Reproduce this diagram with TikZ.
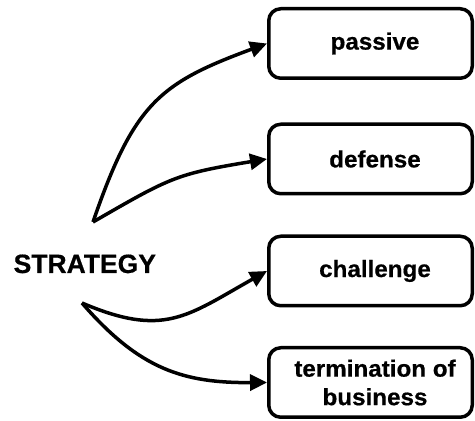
\documentclass[tikz,border=0pt]{standalone}
\usepackage{fontspec}
\setmainfont{Liberation Sans}
\newfontfamily\boxfont{Liberation Sans Bold}[FakeStretch=1.03, FakeBold=0.6]
\newfontfamily\stratfont{Liberation Sans Bold}[FakeBold=0.6]
\usetikzlibrary{arrows.meta}
\begin{document}
\begin{tikzpicture}[x=1pt,y=1pt,
  optbox/.style={draw=black, line width=3.5pt, rounded corners=12pt, minimum width=203.5pt, minimum height=69.5pt, inner sep=0pt, align=center, font=\boxfont\fontsize{23.5}{28.5}\selectfont},
  conn/.style={line width=3.5pt, -{Triangle[length=17pt,width=16pt]}}]
\useasboundingbox (0,0) rectangle (475,421);
\node[optbox] (b1) at (370.5,377.5) {\hspace*{9pt}passive};
\node[optbox] (b2) at (370.5,262) {\hspace*{9pt}defense};
\node[optbox] (b3) at (370.5,150) {\hspace*{9pt}challenge};
\node[optbox] (b4) at (370.5,38.5) {\hspace*{9pt}termination of\\\hspace*{9pt}business};
\node[anchor=base, inner sep=0pt, font=\stratfont\fontsize{26.5}{30}\selectfont] (strat) at (84.8,148) {STRATEGY};
\coordinate (v1) at (93,199);
\coordinate (v2) at (82,118);
\draw[conn] (v1) .. controls (134,318) and (160,338) .. (b1.west);
\draw[conn] (v1) .. controls (171,244) and (176,247) .. (b2.west);
\draw[conn] (v2) .. controls (164,83) and (187,105) .. (b3.west);
\draw[conn] (v2) .. controls (140,51) and (184,38) .. (b4.west);
\end{tikzpicture}
\end{document}
